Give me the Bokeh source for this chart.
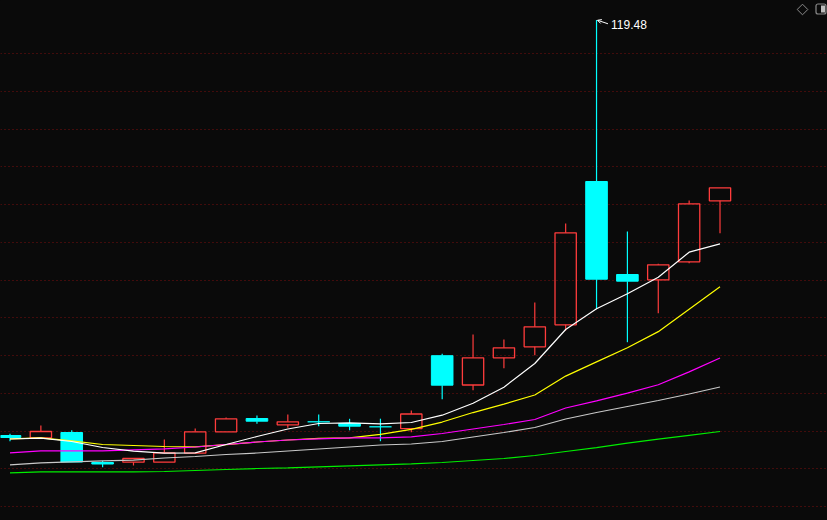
import numpy as np
from bokeh.plotting import figure
from bokeh.models import FixedTicker, Grid, Arrow, OpenHead
from bokeh.core.properties import value
from bokeh.embed import file_html
from bokeh.resources import INLINE

# ---- data ----
opens  = [36.38, 35.92, 36.98, 30.98, 31.04, 31.04, 32.84, 37.12, 39.78, 38.52, 39.12, 38.78,
          38.12, 37.74, 52.34, 46.48, 51.92, 54.12, 58.52, 87.18, 68.58, 67.52, 71.12, 83.32]
highs  = [36.72, 38.38, 37.42, 31.32, 31.78, 35.58, 37.78, 39.98, 40.38, 40.58, 40.58, 39.72,
          39.74, 41.38, 52.72, 56.58, 55.58, 62.98, 78.78, 119.48, 77.18, 70.72, 83.38, 85.92]
lows   = [35.24, 35.92, 31.08, 30.04, 30.38, 31.04, 32.84, 37.12, 38.72, 37.92, 38.24, 37.42,
          35.24, 37.02, 43.64, 45.44, 49.84, 52.44, 57.38, 61.64, 55.04, 60.84, 70.84, 76.84]
closes = [35.98, 37.18, 31.08, 30.68, 31.78, 32.92, 37.12, 39.72, 39.24, 39.12, 39.12, 38.24,
          38.12, 40.68, 46.44, 51.92, 53.92, 58.12, 76.92, 67.64, 67.24, 70.52, 82.72, 85.92]

ma5  = [35.68, 35.84, 35.18, 33.98, 33.24, 32.84, 32.92, 34.58, 36.18, 37.68, 38.78, 38.92,
        38.72, 38.98, 40.44, 42.84, 46.04, 50.78, 57.58, 61.72, 64.72, 68.04, 73.04, 74.72]
ma10 = [35.72, 35.92, 35.32, 34.58, 34.38, 34.18, 34.12, 34.55, 35.08, 35.48, 35.80, 35.90,
        36.61, 37.61, 39.07, 40.97, 42.65, 44.49, 48.26, 51.11, 53.92, 57.15, 61.61, 66.14]
ma20 = [32.92, 33.32, 33.32, 33.32, 33.52, 33.72, 34.08, 34.58, 35.08, 35.48, 35.72, 35.92,
        35.92, 36.12, 36.78, 37.68, 38.58, 39.58, 41.88, 43.30, 44.86, 46.53, 49.11, 51.87]
ma30 = [30.52, 30.92, 31.12, 31.32, 31.44, 31.88, 32.18, 32.58, 32.88, 33.28, 33.68, 34.08,
        34.48, 34.68, 35.18, 36.08, 36.98, 37.98, 39.68, 40.98, 42.18, 43.38, 44.68, 46.08]
ma60 = [28.92, 29.12, 29.12, 29.12, 29.12, 29.18, 29.38, 29.58, 29.78, 29.92, 30.12, 30.32,
        30.52, 30.72, 30.98, 31.38, 31.78, 32.38, 33.18, 33.96, 34.84, 35.66, 36.42, 37.18]

# ---- style ----
BG = "#0a0a0a"
RED = "#ff3c3c"
CYAN = "#00ffff"
W, H = 827, 520
XMIN, XMAX = -0.3077, 26.482
YMIN, YMAX = 19.38, 123.38
GRID_TOP, GRID_STEP, GRID_N = 112.78, 7.55, 13

def px2x(px):
    return XMIN + px / W * (XMAX - XMIN)

def px2y(py):
    return YMAX - py / H * (YMAX - YMIN)

o = np.array(opens); c = np.array(closes); h = np.array(highs); l = np.array(lows)
idx = np.arange(len(c))
up = c > o
dn = c < o
dj = c == o
col = np.where(up, RED, CYAN)
top = np.maximum(o, c)
bot = np.minimum(o, c)

p = figure(width=W, height=H, x_range=(XMIN, XMAX), y_range=(YMIN, YMAX),
           x_axis_type=None, y_axis_type=None,
           output_backend="svg", toolbar_location=None,
           background_fill_color=BG, border_fill_color=BG,
           min_border=0, outline_line_color=None)

grid = Grid(dimension=1, ticker=FixedTicker(ticks=list(GRID_TOP - GRID_STEP * np.arange(GRID_N))),
            grid_line_color="#7a0e0e", grid_line_dash="1 3", grid_line_width=1)
p.add_layout(grid)

# wicks
p.segment(x0=idx, y0=top, x1=idx, y1=h, line_color=list(col), line_width=1.2)
p.segment(x0=idx, y0=bot, x1=idx, y1=l, line_color=list(col), line_width=1.2)

# bodies
p.vbar(x=idx[up], bottom=o[up], top=c[up], width=0.69, fill_color=None,
       line_color=RED, line_width=1.3)
p.vbar(x=idx[dn], bottom=c[dn], top=o[dn], width=0.70, fill_color=CYAN,
       line_color=CYAN, line_width=1)
p.segment(x0=idx[dj] - 0.36, y0=c[dj], x1=idx[dj] + 0.36, y1=c[dj],
          line_color=CYAN, line_width=1.3)

# moving averages
for arr, color in [(ma60, "#00ee00"), (ma30, "#c8c8c8"), (ma10, "#ffff00"),
                   (ma20, "#ff00ff"), (ma5, "#ffffff")]:
    p.line(idx, arr, line_color=color, line_width=1.2)

# max-high marker
imax = int(np.argmax(h))
hmax = float(h[imax])
p.add_layout(Arrow(end=OpenHead(size=4, line_color="white", line_width=1),
                   x_start=imax + 0.37, y_start=hmax - 0.75,
                   x_end=imax + 0.03, y_end=hmax - 0.05,
                   line_color="white", line_width=1))
p.text(x=[imax + 0.47], y=[hmax - 0.95], text=[f"{hmax:.2f}"],
       text_color="white", text_font=value("Liberation Sans"),
       text_font_size="12px", text_baseline="middle", text_align="left")

# top-right icons
p.scatter(x=[px2x(802)], y=[px2y(9)], marker="square", size=7.5, angle=np.pi / 4,
          fill_color=None, line_color="#8a8a8a", line_width=1)
p.rect(x=[px2x(820.5)], y=[px2y(8.5)], width=10, height=10,
       width_units="screen", height_units="screen",
       fill_color=None, line_color="#8a8a8a", line_width=1.2,
       border_radius=2)
p.rect(x=[px2x(822.5)], y=[px2y(8.5)], width=4, height=7,
       width_units="screen", height_units="screen",
       fill_color="#bdbdbd", line_color=None)

html = file_html(p, INLINE)
html = html.replace("<head>", "<head><style>html,body{background:%s;}</style>" % BG, 1)
open("out.html", "w").write(html)
